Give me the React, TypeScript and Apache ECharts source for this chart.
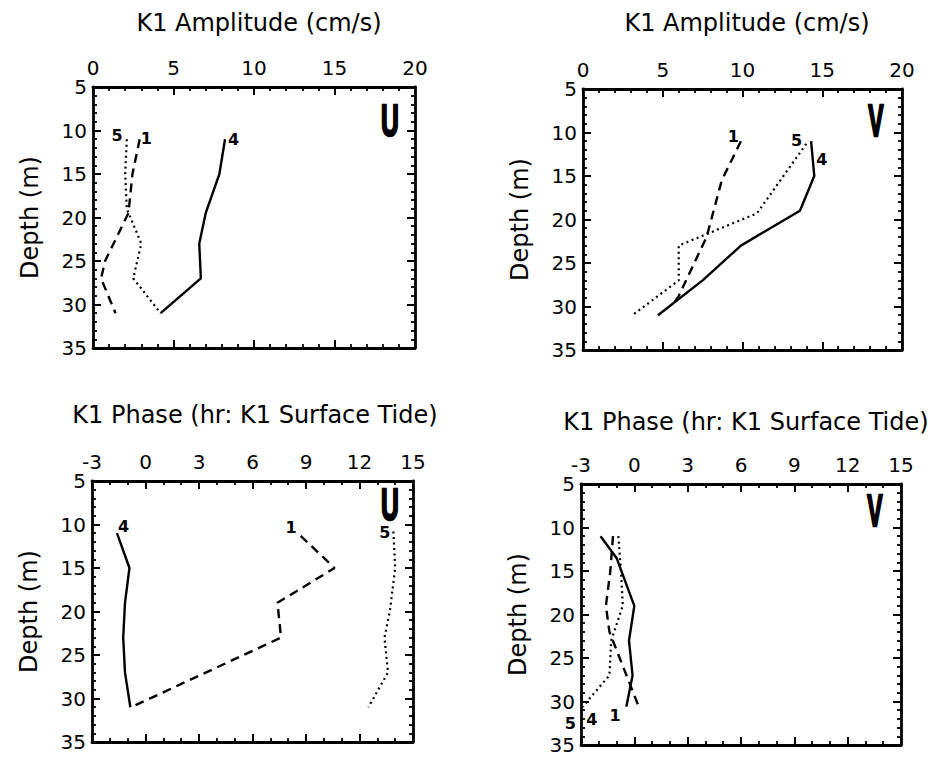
import React, { useEffect, useRef } from "react";
import * as echarts from "echarts";

// ---------- DATA ----------
// Panel A: K1 amplitude, U component (cm/s) vs depth (m)
const ampU_st1_x = [2.9, 2.45, 2.2, 0.75, 0.5, 1.4];
const ampU_st1_d = [11, 15, 19.5, 25, 27, 31];
const ampU_st4_x = [8.2, 7.85, 7.0, 6.6, 6.7, 4.2];
const ampU_st4_d = [11, 15, 19.5, 23, 27, 31];
const ampU_st5_x = [2.1, 2.0, 2.1, 3.0, 2.5, 4.2];
const ampU_st5_d = [11, 15, 19, 23, 27, 31];

// Panel B: K1 amplitude, V component
const ampV_st1_x = [9.9, 8.7, 7.75, 6.0, 5.7];
const ampV_st1_d = [11, 15.5, 22, 28.8, 29.6];
const ampV_st4_x = [14.3, 14.5, 13.6, 9.9, 7.5, 4.7];
const ampV_st4_d = [11, 15, 19, 23, 27, 31];
const ampV_st5_x = [14.0, 10.9, 6.0, 6.0, 3.1];
const ampV_st5_d = [11.3, 19.3, 23, 27, 31];

// Panel C: K1 phase (hr), U component
const phU_st1_x = [8.7, 10.6, 7.4, 7.6, -0.8];
const phU_st1_d = [11.3, 15, 19, 23, 31];
const phU_st4_x = [-1.6, -0.9, -1.15, -1.25, -1.15, -0.85];
const phU_st4_d = [11, 15, 19, 23, 27, 31];
const phU_st5_x = [13.9, 14.0, 13.7, 13.4, 13.6, 12.5];
const phU_st5_d = [10.8, 15, 20, 23, 27, 31];

// Panel D: K1 phase (hr), V component
const phV_st1_x = [-1.2, -1.35, -1.6, -1.4, -0.25, 0.25];
const phV_st1_d = [11, 15, 19, 22, 28, 30.6];
const phV_st4_x = [-1.9, -1.0, 0.0, -0.3, -0.1, -0.45];
const phV_st4_d = [11, 13.5, 19, 23, 27, 30.6];
const phV_st5_x = [-0.9, -0.75, -0.65, -1.3, -1.4, -3.0];
const phV_st5_d = [11, 15, 19, 23, 27, 30.8];

const ampTitle = "K1 Amplitude (cm/s)";
const phaseTitle = "K1 Phase (hr: K1 Surface Tide)";
const depthTitle = "Depth (m)";
const componentNames = ["U", "V", "U", "V"];

// ---------- STYLE ----------
const FONT = '"DejaVu Sans", sans-serif';
const BLACK = "#000";

const lineTypes: Record<string, any> = {
  "1": { type: [9, 6], width: 2.4 },
  "4": { type: "solid", width: 2.4 },
  "5": { type: [2, 3.5], width: 2.2 },
};

function makeSeries(
  gi: number,
  xs: number[],
  ds: number[],
  station: string,
  labelIdx: number,
  labelPos: string,
  distance: number,
  offset: number[]
) {
  return {
    type: "line",
    xAxisIndex: gi * 2,
    yAxisIndex: gi * 2,
    symbol: "circle",
    symbolSize: 0.1,
    showSymbol: true,
    itemStyle: { color: BLACK },
    lineStyle: { color: BLACK, ...lineTypes[station], cap: "butt" },
    data: ds.map((d, k) =>
      k === labelIdx
        ? {
            value: [xs[k], d],
            label: {
              show: true,
              formatter: station,
              position: labelPos,
              distance,
              offset,
              fontFamily: FONT,
              fontWeight: "bold",
              fontSize: 16,
              color: BLACK,
            },
          }
        : { value: [xs[k], d] }
    ),
    z: 3,
  };
}

const grids = [
  { left: 93, top: 87, width: 322, height: 261 },
  { left: 583, top: 89, width: 319, height: 261 },
  { left: 92, top: 481, width: 321, height: 261 },
  { left: 581, top: 484, width: 320, height: 261 },
];

const xRanges = [
  { min: 0, max: 20, interval: 5, minor: 5 },
  { min: 0, max: 20, interval: 5, minor: 5 },
  { min: -3, max: 15, interval: 3, minor: 3 },
  { min: -3, max: 15, interval: 3, minor: 3 },
];

function axisLine() {
  return { show: true, onZero: false, lineStyle: { color: BLACK, width: 2.8 } };
}

function buildOption() {
  const xAxis: any[] = [];
  const yAxis: any[] = [];
  grids.forEach((g, i) => {
    const r = xRanges[i];
    ["top", "bottom"].forEach((pos) => {
      xAxis.push({
        type: "value",
        gridIndex: i,
        position: pos,
        min: r.min,
        max: r.max,
        interval: r.interval,
        axisLine: axisLine(),
        axisTick: { show: true, inside: true, length: 8, lineStyle: { color: BLACK, width: 2 } },
        minorTick: { show: true, splitNumber: r.minor, length: 4, lineStyle: { color: BLACK, width: 1.8 } },
        axisLabel: {
          show: pos === "top",
          color: BLACK,
          fontFamily: FONT,
          fontSize: 20,
          margin: 9,
        },
        splitLine: { show: false },
        minorSplitLine: { show: false },
      });
    });
    ["left", "right"].forEach((pos) => {
      yAxis.push({
        type: "value",
        gridIndex: i,
        position: pos,
        inverse: true,
        min: 5,
        max: 35,
        interval: 5,
        name: pos === "left" ? depthTitle : "",
        nameLocation: "middle",
        nameGap: 51,
        nameRotate: 90,
        nameTextStyle: { color: BLACK, fontFamily: FONT, fontSize: 24 },
        axisLine: axisLine(),
        axisTick: { show: true, inside: true, length: 8, lineStyle: { color: BLACK, width: 2 } },
        minorTick: { show: true, splitNumber: 5, length: 4, lineStyle: { color: BLACK, width: 1.8 } },
        axisLabel: {
          show: pos === "left",
          color: BLACK,
          fontFamily: FONT,
          fontSize: 20,
          margin: 6,
        },
        splitLine: { show: false },
        minorSplitLine: { show: false },
      });
    });
  });

  const series = [
    // Panel A
    makeSeries(0, ampU_st1_x, ampU_st1_d, "1", 0, "right", 1, [0, -1]),
    makeSeries(0, ampU_st4_x, ampU_st4_d, "4", 0, "right", 3, [0, 0]),
    makeSeries(0, ampU_st5_x, ampU_st5_d, "5", 0, "left", 4, [0, -4]),
    // Panel B
    makeSeries(1, ampV_st1_x, ampV_st1_d, "1", 0, "left", 2, [0, -5]),
    makeSeries(1, ampV_st4_x, ampV_st4_d, "4", 0, "right", 5, [0, 18]),
    makeSeries(1, ampV_st5_x, ampV_st5_d, "5", 0, "left", 4, [0, -3]),
    // Panel C
    makeSeries(2, phU_st1_x, phU_st1_d, "1", 0, "left", 4, [0, -8]),
    makeSeries(2, phU_st4_x, phU_st4_d, "4", 0, "right", 1, [0, -7]),
    makeSeries(2, phU_st5_x, phU_st5_d, "5", 0, "left", 3, [0, 1]),
    // Panel D
    makeSeries(3, phV_st1_x, phV_st1_d, "1", phV_st1_d.length - 1, "left", 18, [0, 9]),
    makeSeries(3, phV_st4_x, phV_st4_d, "4", phV_st4_d.length - 1, "left", 29, [0, 13]),
    makeSeries(3, phV_st5_x, phV_st5_d, "5", phV_st5_d.length - 1, "left", 5, [0, 15]),
  ];

  const titleStyle = { color: BLACK, fontFamily: FONT, fontSize: 24, fontWeight: "normal" };
  const title = [
    { text: ampTitle, left: 254, top: 6, textAlign: "center", textStyle: titleStyle },
    { text: ampTitle, left: 742, top: 6, textAlign: "center", textStyle: titleStyle },
    { text: phaseTitle, left: 250, top: 398, textAlign: "center", textStyle: titleStyle },
    { text: phaseTitle, left: 741, top: 405, textAlign: "center", textStyle: titleStyle },
  ];

  const compPos = [
    [390, 121],
    [876, 120],
    [390, 505],
    [875, 510],
  ];
  const graphic = componentNames.map((c, i) => ({
    type: "text",
    x: compPos[i][0],
    y: compPos[i][1],
    scaleX: c === "U" ? 0.56 : 0.52,
    z: 10,
    style: {
      text: c,
      font: 'bold 44px "Liberation Sans", sans-serif',
      textAlign: "center",
      textVerticalAlign: "middle",
      fill: BLACK,
      stroke: BLACK,
      lineWidth: 2.5,
    },
  }));

  return {
    animation: false,
    backgroundColor: "#fff",
    title,
    grid: grids,
    xAxis,
    yAxis,
    series,
    graphic,
  };
}

export default function App() {
  const ref = useRef<HTMLDivElement>(null);
  useEffect(() => {
    document.body.style.margin = "0";
    if (!ref.current) return;
    const chart = echarts.init(ref.current, undefined, { renderer: "svg" });
    chart.setOption(buildOption() as any);
    return () => chart.dispose();
  }, []);
  return <div ref={ref} style={{ width: 935, height: 760 }} />;
}
